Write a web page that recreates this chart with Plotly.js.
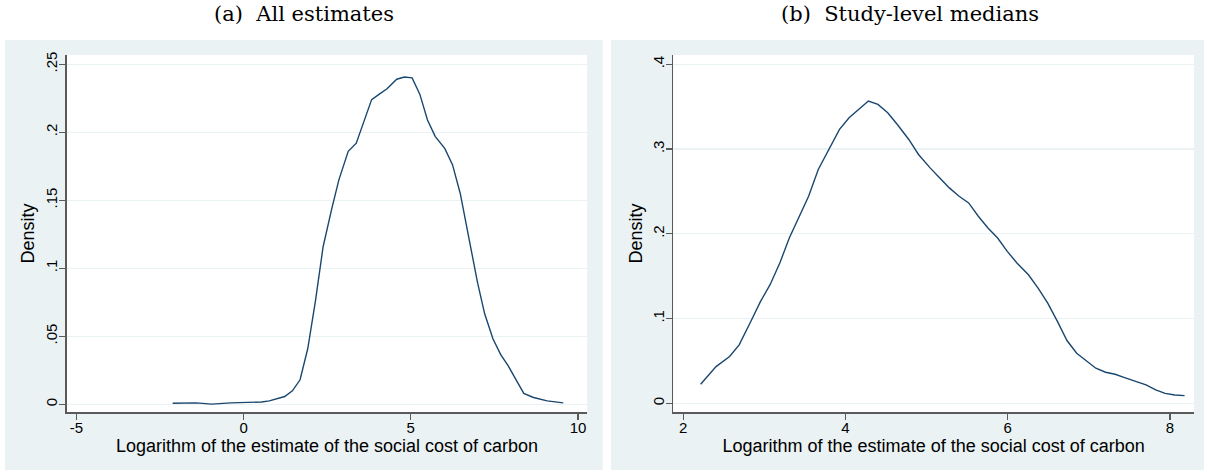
<!DOCTYPE html>
<html>
<head>
<meta charset="utf-8">
<script src="https://cdn.plot.ly/plotly-3.0.1.min.js"></script>
<style>
html,body{margin:0;padding:0;background:#fff;}
#chart{width:1208px;height:472px;}
</style>
</head>
<body>
<div id="chart"></div>
<script>
// Panel (a): all estimates
const allX = [-2.12,-1.42,-0.96,-0.38,0.54,0.77,1.23,1.46,1.69,1.92,2.15,2.38,2.64,2.85,3.13,3.37,3.60,3.83,4.06,4.29,4.58,4.81,5.04,5.27,5.50,5.73,6.02,6.25,6.48,6.71,7.00,7.21,7.46,7.69,7.92,8.15,8.38,8.67,9.08,9.56];
const allY = [0.0008,0.001,0.0001,0.001,0.0017,0.0025,0.0057,0.0099,0.018,0.041,0.076,0.116,0.144,0.165,0.186,0.192,0.208,0.224,0.228,0.232,0.239,0.2406,0.240,0.228,0.209,0.197,0.188,0.176,0.155,0.126,0.089,0.0665,0.048,0.0365,0.028,0.018,0.008,0.005,0.0025,0.001];

// Panel (b): study-level medians
const medX = [2.214,2.404,2.571,2.689,2.832,2.951,3.07,3.19,3.307,3.426,3.545,3.664,3.783,3.926,4.044,4.163,4.282,4.40,4.52,4.639,4.78,4.90,5.043,5.162,5.28,5.40,5.518,5.637,5.756,5.875,5.994,6.113,6.255,6.374,6.493,6.612,6.73,6.85,6.97,7.086,7.205,7.324,7.44,7.586,7.705,7.824,7.94,8.06,8.18];
const medY = [0.0225,0.0433,0.0552,0.069,0.0966,0.120,0.140,0.1655,0.195,0.2207,0.2443,0.2759,0.2975,0.3232,0.337,0.3468,0.3567,0.3527,0.3429,0.329,0.3113,0.2936,0.2778,0.266,0.2542,0.2443,0.2365,0.2207,0.2069,0.195,0.1793,0.1655,0.1517,0.136,0.1182,0.0966,0.0741,0.0591,0.0504,0.0414,0.0367,0.0343,0.0303,0.0256,0.0217,0.0158,0.0118,0.0099,0.0091];

// Tick labels
const xTicksA = [-5,0,5,10];
const xLabelsA = ['-5','0','5','10'];
const yTicksA = [0,0.05,0.1,0.15,0.2,0.25];
const yLabelsA = ['0','.05','.1','.15','.2','.25'];
const xTicksB = [2,4,6,8];
const xLabelsB = ['2','4','6','8'];
const yTicksB = [0,0.1,0.2,0.3,0.4];
const yLabelsB = ['0','.1','.2','.3','.4'];

const panelTitles = ['(a)\u00a0 All estimates','(b)\u00a0 Study-level medians'];
const xTitle = 'Logarithm of the estimate of the social cost of carbon';
const yTitle = 'Density';

const W = 1208, H = 472;
const px = v => v / W;
const py = v => 1 - v / H;

const lineColor = '#1a476f';
const axisColor = '#5a5a5a';
const gridColor = '#eaf2f3';
const panelBg = '#eaf2f3';
const sansFont = {family: 'Liberation Sans, Arial, sans-serif', size: 15, color: '#000'};
const titleFont = {family: 'Liberation Sans, Arial, sans-serif', size: 18, color: '#000'};

function xaxisDef(domain, range, vals, labels, anchor) {
  return {
    domain: domain, range: range, anchor: anchor,
    tickmode: 'array', tickvals: vals, ticktext: labels,
    ticks: 'outside', ticklen: 6, tickwidth: 1.2, tickcolor: axisColor,
    ticklabelstandoff: -5,
    showline: true, linecolor: axisColor, linewidth: 1.6,
    showgrid: false, zeroline: false, tickfont: sansFont,
    title: {text: xTitle, font: titleFont, standoff: 2},
    automargin: false, fixedrange: true
  };
}
function yaxisDef(domain, range, vals, labels, anchor) {
  return {
    domain: domain, range: range, anchor: anchor,
    tickmode: 'array', tickvals: vals, ticktext: labels, tickangle: -90,
    ticks: 'outside', ticklen: 6, tickwidth: 1.2, tickcolor: axisColor,
    ticklabelstandoff: -4,
    showline: true, linecolor: axisColor, linewidth: 1.6,
    showgrid: true, gridcolor: gridColor, gridwidth: 1.2,
    zeroline: false, tickfont: sansFont,
    automargin: false, fixedrange: true
  };
}

const traces = [
  {x: allX, y: allY, xaxis: 'x', yaxis: 'y', type: 'scatter', mode: 'lines',
   line: {color: lineColor, width: 1.4}, hoverinfo: 'x+y', showlegend: false},
  {x: medX, y: medY, xaxis: 'x2', yaxis: 'y2', type: 'scatter', mode: 'lines',
   line: {color: lineColor, width: 1.4}, hoverinfo: 'x+y', showlegend: false}
];

// white gaps around the two light panels (the paper carries the panel colour)
const gaps = [
  [0, 1208, 0, 40], [0, 5, 0, 472], [602.7, 611, 0, 472], [1204, 1208, 0, 472], [0, 1208, 470, 472]
];

const layout = {
  width: W, height: H,
  margin: {l: 0, r: 0, t: 0, b: 0, pad: 0},
  paper_bgcolor: panelBg,
  plot_bgcolor: '#ffffff',
  showlegend: false,
  xaxis: xaxisDef([px(67), px(587)], [-5.28, 10.27], xTicksA, xLabelsA, 'y'),
  yaxis: yaxisDef([py(412.3), py(55)], [-0.0059, 0.2568], yTicksA, yLabelsA, 'x'),
  xaxis2: xaxisDef([px(673.3), px(1194)], [1.877, 8.296], xTicksB, xLabelsB, 'y2'),
  yaxis2: yaxisDef([py(412.3), py(55)], [-0.0106, 0.411], yTicksB, yLabelsB, 'x2'),
  shapes: gaps.map(g => ({type: 'rect', xref: 'paper', yref: 'paper',
    x0: px(g[0]), x1: px(g[1]), y0: py(g[3]), y1: py(g[2]),
    fillcolor: '#ffffff', line: {width: 0}, layer: 'below'})),
  annotations: [
    {text: panelTitles[0], xref: 'paper', yref: 'paper', x: px(304), y: py(14),
     xanchor: 'center', yanchor: 'middle', showarrow: false,
     font: {family: 'DejaVu Serif, serif', size: 21, color: '#000'}},
    {text: panelTitles[1], xref: 'paper', yref: 'paper', x: px(910), y: py(14),
     xanchor: 'center', yanchor: 'middle', showarrow: false,
     font: {family: 'DejaVu Serif, serif', size: 21, color: '#000'}},
    {text: yTitle, xref: 'paper', yref: 'paper', x: px(28), y: py(233.6), textangle: -90,
     xanchor: 'center', yanchor: 'middle', showarrow: false, font: titleFont},
    {text: yTitle, xref: 'paper', yref: 'paper', x: px(636), y: py(233.6), textangle: -90,
     xanchor: 'center', yanchor: 'middle', showarrow: false, font: titleFont}
  ]
};

Plotly.newPlot('chart', traces, layout, {displayModeBar: false, staticPlot: true});
</script>
</body>
</html>
